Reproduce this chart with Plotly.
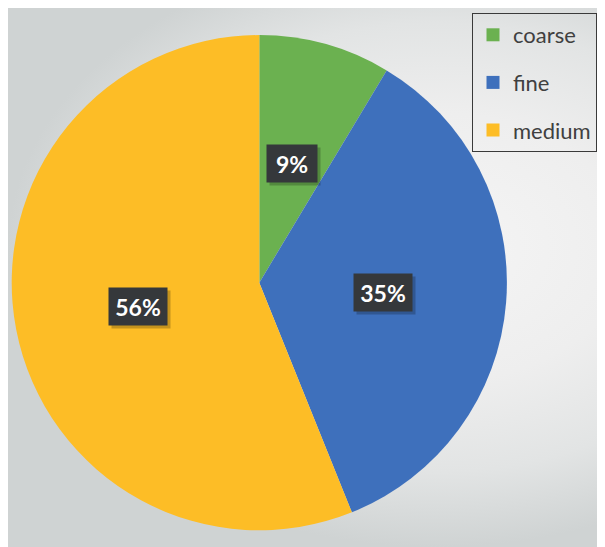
import math
import plotly.graph_objects as go

categories = ["coarse", "fine", "medium"]
values = [8.6, 35.3, 56.1]
colors = ["#6BB150", "#3E70BC", "#FDBD26"]

# page body has an 8px margin, so figure is drawn from (8, 8)
OFF = 8
W, H = 605 - OFF, 547 - OFF
CX, CY, R = 259.3 - OFF, 282.7 - OFF, 247.6  # pie centre / radius in figure pixels

fig = go.Figure()

# background panel with radial gradient (centre shifted to the right)
fig.add_trace(go.Scatter(
    x=[0, W + 260, W + 260, 0, 0], y=[-60, -60, H, H, -60],
    fill="toself", mode="lines", line=dict(width=0),
    fillgradient=dict(type="radial",
                      colorscale=[[0, "#f5f5f5"], [0.45, "#eeeeee"], [0.75, "#e2e4e4"], [1, "#cfd3d3"]]),
    hoverinfo="skip", showlegend=False,
))

fig.add_trace(go.Pie(
    labels=categories, values=values, sort=False, direction="clockwise",
    rotation=0, marker=dict(colors=colors, line=dict(width=0)),
    textinfo="none", showlegend=False, hoverinfo="label+percent",
    domain=dict(x=[(CX - R) / W, (CX + R) / W], y=[1 - (CY + R) / H, 1 - (CY - R) / H]),
))

# legend entries
for c, col in zip(categories, colors):
    fig.add_trace(go.Scatter(
        x=[-100], y=[-100], mode="markers", name=c,
        marker=dict(symbol="square", size=13, color=col),
        legendgroup=c, showlegend=True, hoverinfo="skip",
    ))

# data labels
total = sum(values)
cum = 0
for c, v in zip(categories, values):
    mid = (cum + v / 2) / total * 2 * math.pi
    cum += v
    lx = CX + 0.5 * R * math.sin(mid)
    ly = CY - 0.5 * R * math.cos(mid)
    txt = f"{round(100 * v / total)}%"
    bw, bh = 34 + 8 * len(txt), 37
    fig.add_annotation(x=lx + 3, y=ly + 3, xref="x", yref="y", text=" ", showarrow=False,
                       width=bw, height=bh, borderpad=0,
                       bgcolor="rgba(0,0,0,0.22)")
    fig.add_annotation(x=lx, y=ly, xref="x", yref="y", text=f"<b>{txt}</b>", showarrow=False,
                       width=bw, height=bh, borderpad=0,
                       font=dict(family="Lato", size=23, color="white"),
                       bgcolor="#35383b")

fig.update_layout(
    width=W, height=H, margin=dict(l=0, r=0, t=0, b=0),
    paper_bgcolor="#e6e7e7", plot_bgcolor="rgba(0,0,0,0)",
    xaxis=dict(range=[0, W], visible=False, fixedrange=True, domain=[0, 1]),
    yaxis=dict(range=[H, 0], visible=False, fixedrange=True, domain=[0, 1]),
    legend=dict(x=(597 - OFF) / W, y=1 - (13 - OFF) / H, xanchor="right", yanchor="top",
                bordercolor="#3a3a3a", borderwidth=1, bgcolor="rgba(0,0,0,0)",
                font=dict(family="Lato", size=22, color="#404040"),
                tracegroupgap=16, itemwidth=30),
    showlegend=True,
)

fig.write_html("out.html")
